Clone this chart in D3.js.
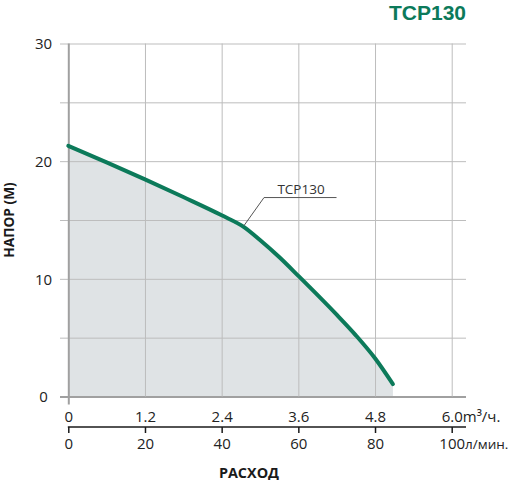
<!DOCTYPE html>
<html>
<head>
<meta charset="utf-8">
<script src="https://cdn.jsdelivr.net/npm/d3@7/dist/d3.min.js"></script>
<style>
  html, body { margin: 0; padding: 0; background: #fff; }
  svg { display: block; font-family: "Open Sans", sans-serif; }
</style>
</head>
<body>
<svg id="chart" width="508" height="480"></svg>
<script>
// ---- data ----
const flowM3 = [0, 0.6, 1.2, 1.8, 2.4, 2.75, 3.0, 3.3, 3.6, 4.2, 4.5, 4.8, 5.08];
const headM  = [21.3, 19.9, 18.45, 16.95, 15.4, 14.4, 13.3, 11.85, 10.25, 6.95, 5.2, 3.25, 1.05];
const xTicksM3 = [0, 1.2, 2.4, 3.6, 4.8, 6.0];
const xLabelsM3 = ["0", "1.2", "2.4", "3.6", "4.8", "6.0"];
const unitM3 = "m³/ч.";
const xTicksLpm = [0, 20, 40, 60, 80, 100];
const xLabelsLpm = ["0", "20", "40", "60", "80", "100"];
const unitLpm = "л/мин.";
const yTicks = [0, 10, 20, 30];
const yGrid = [0, 5, 10, 15, 20, 25, 30];
const seriesName = "TCP130";
const labelAt = 2.75;

// ---- layout ----
const svg = d3.select("#chart");
const X0 = 68.3, X1 = 451.7, Y0 = 396.5, Y1 = 43.5;
const gridLeft = 60, gridRight = 466;
const green = "#0c7a5a";

const x = d3.scaleLinear().domain([0, 6]).range([X0, X1]);
const xl = d3.scaleLinear().domain([0, 100]).range([X0, X1]);
const y = d3.scaleLinear().domain([0, 30]).range([Y0, Y1]);

const data = flowM3.map((f, i) => ({ f, h: headM[i] }));

// fill area
svg.append("path")
  .datum(data)
  .attr("fill", "#dfe3e5")
  .attr("d", d3.area().x(d => x(d.f)).y0(y(0)).y1(d => y(d.h)).curve(d3.curveMonotoneX));

// horizontal grid lines (with left stubs)
const gy = svg.append("g").attr("transform", `translate(${gridLeft},0)`)
  .call(d3.axisLeft(y).tickValues(yGrid).tickSize(-(gridRight - gridLeft)).tickFormat(""));
gy.select(".domain").remove();
gy.selectAll(".tick line").attr("stroke", "#bdbdbd").attr("stroke-width", 1);
gy.selectAll(".tick").filter(d => d === 0).select("line").attr("stroke", "#a0a0a0").attr("stroke-width", 2);

// vertical grid lines
const gx = svg.append("g").attr("transform", `translate(0,${Y0})`)
  .call(d3.axisBottom(x).tickValues(xTicksM3).tickSize(-(Y0 - Y1)).tickFormat(""));
gx.select(".domain").remove();
gx.selectAll(".tick line").attr("stroke", "#bdbdbd").attr("stroke-width", 1);
gx.selectAll(".tick").filter(d => d === 0).select("line")
  .attr("stroke", "#a0a0a0").attr("stroke-width", 2).attr("y1", 8);

// curve
svg.append("path")
  .datum(data)
  .attr("fill", "none")
  .attr("stroke", green)
  .attr("stroke-width", 4)
  .attr("stroke-linecap", "round")
  .attr("stroke-linejoin", "round")
  .attr("d", d3.line().x(d => x(d.f)).y(d => y(d.h)).curve(d3.curveMonotoneX));

// y tick labels
const yl = svg.append("g").attr("transform", `translate(${gridLeft},0)`)
  .call(d3.axisLeft(y).tickValues(yTicks).tickSize(0).tickFormat(d3.format("d")));
yl.select(".domain").remove();
yl.selectAll(".tick text")
  .attr("x", -16.5).attr("dy", "0.36em")
  .attr("text-anchor", "middle")
  .attr("font-size", 15).attr("fill", "#222")
  .attr("font-family", "Open Sans, sans-serif");

// x label rows
function labelRow(scale, ticks, labels, unit, yPos, unitSize) {
  const g = svg.append("g").attr("transform", `translate(0,${yPos})`)
    .call(d3.axisBottom(scale).tickValues(ticks).tickSize(0).tickFormat((d, i) => labels[i]));
  g.select(".domain").remove();
  g.selectAll(".tick text")
    .attr("y", 0).attr("dy", 0)
    .attr("font-size", 15).attr("fill", "#222")
    .attr("font-family", "Open Sans, sans-serif");
  const last = g.selectAll(".tick").filter((d, i) => i === ticks.length - 1).select("text");
  const w = last.node().getComputedTextLength();
  last.attr("text-anchor", "start").attr("x", -w / 2);
  last.append("tspan").attr("font-size", unitSize).text(unit);
  return g;
}
labelRow(x, xTicksM3, xLabelsM3, unitM3, 421.7, 15);

// second axis (l/min)
const ax2Y = 427;
svg.append("line")
  .attr("x1", X0 - 0.5).attr("x2", gridRight).attr("y1", ax2Y).attr("y2", ax2Y)
  .attr("stroke", "#1a1a1a").attr("stroke-width", 1.5);
const t2 = svg.append("g").attr("transform", `translate(0,${ax2Y})`)
  .call(d3.axisBottom(xl).tickValues(xTicksLpm).tickSize(6).tickFormat(""));
t2.select(".domain").remove();
t2.selectAll(".tick line").attr("stroke", "#1a1a1a").attr("stroke-width", 1.5);
labelRow(xl, xTicksLpm, xLabelsLpm, unitLpm, 449, 13.5);

// axis titles
svg.append("text")
  .attr("x", 249).attr("y", 477.5)
  .attr("text-anchor", "middle")
  .attr("font-size", 14.4).attr("font-weight", 700).attr("fill", "#1a1a1a")
  .text("РАСХОД");
svg.append("text")
  .attr("transform", `translate(14,${(Y0 + Y1) / 2}) rotate(-90)`)
  .attr("text-anchor", "middle")
  .attr("font-size", 13.7).attr("font-weight", 700).attr("fill", "#1a1a1a")
  .text("НАПОР (М)");

// title
svg.append("text")
  .attr("x", 466).attr("y", 19.5)
  .attr("text-anchor", "end")
  .attr("font-family", "Liberation Sans, Arial, sans-serif")
  .attr("font-size", 21).attr("font-weight", 700).attr("fill", green)
  .text(seriesName);

// annotation leader from the labelled data point
const pt = data.find(d => d.f === labelAt);
const px = x(pt.f), py = y(pt.h) - 1.5;
const ex = px + 20, ey = py - 28;
svg.append("path")
  .attr("d", `M${px},${py}L${ex},${ey}L${ex + 72.5},${ey}`)
  .attr("fill", "none").attr("stroke", "#555").attr("stroke-width", 1);
svg.append("text")
  .attr("x", ex + 13.4).attr("y", ey - 4)
  .attr("font-size", 13.5).attr("fill", "#333")
  .text(seriesName);
</script>
</body>
</html>
